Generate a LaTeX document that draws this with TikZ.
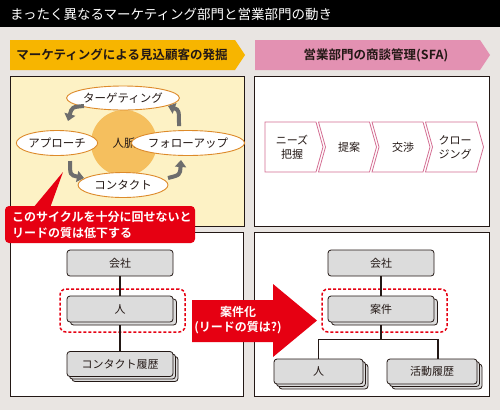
\documentclass[tikz,border=0pt]{standalone}
\usepackage{fontspec}
\setmainfont{Noto Sans CJK JP}[BoldFont={Noto Sans CJK JP Bold}]
\usetikzlibrary{arrows.meta,calc,shapes.geometric}
\definecolor{bgc}{HTML}{E9E5E2}
\definecolor{redc}{HTML}{E60012}
\definecolor{hdy}{HTML}{F7B500}
\definecolor{hdp}{HTML}{E391B2}
\definecolor{lyel}{HTML}{FDF2C5}
\definecolor{orng}{HTML}{F5BF5E}
\definecolor{ellc}{HTML}{DD8A2A}
\definecolor{chevc}{HTML}{D46E93}
\definecolor{arrg}{HTML}{6D6D6D}
\definecolor{boxg}{HTML}{DCDCDC}
\definecolor{lined}{HTML}{231815}
\newcommand\myfs[1]{\fontsize{#1}{#1}\selectfont}
\tikzset{
  panel/.style={draw=lined, line width=0.8pt},
  ell/.style={ellipse, draw=ellc, line width=0.9pt, fill=white, inner sep=0pt, font=\myfs{11.5}, text=lined},
  cyc/.style={draw=arrg, line width=4pt, -{Triangle[length=7pt,width=11pt]}},
  chev/.style={draw=chevc, line width=0.8pt, fill=white},
  chevtxt/.style={font=\fontsize{11}{14}\selectfont, align=center, text=lined, inner sep=0pt},
  gbox/.style={draw=lined, fill=boxg, rounded corners=3pt, line width=0.8pt, inner sep=0pt, font=\myfs{11}, text=lined},
  wA/.style={minimum width=106pt, minimum height=26pt},
  wB/.style={minimum width=89pt, minimum height=25pt},
  dashbox/.style={draw=redc, line width=1.5pt, dash pattern=on 3pt off 2pt, rounded corners=6pt, inner sep=0pt},
  tree/.style={draw=lined, line width=1.8pt},
}
\begin{document}
\begin{tikzpicture}[x=1pt,y=-1pt]
\useasboundingbox (0,0) rectangle (500,410);
\fill[bgc] (0,0) rectangle (500,410);
\fill[black] (0,0) rectangle (500,27);
\node[anchor=west, text=white, font=\myfs{13.5}, inner sep=0pt] (title) at (10,14) {まったく異なるマーケティング部門と営業部門の動き};

% headers
\fill[hdy] (10,40) -- (235,40) -- (245,55) -- (235,70) -- (10,70) -- cycle;
\node[font=\bfseries\myfs{12.5}, text=lined, inner sep=0pt] (hl) at (122,55) {マーケティングによる見込顧客の発掘};
\fill[hdp] (255,40) -- (480,40) -- (490,55) -- (480,70) -- (255,70) -- cycle;
\node[font=\bfseries\myfs{12.5}, text=lined, inner sep=0pt] (hr) at (376,55) {営業部門の商談管理(SFA)};

% panels
\draw[panel, fill=lyel] (10,76) rectangle (244,226);
\draw[panel, fill=white] (254,76) rectangle (489,226);
\draw[panel, fill=white] (10,232) rectangle (243,396);
\draw[panel, fill=white] (254,232) rectangle (489,396);

% cycle
\node[circle, fill=orng, minimum size=66pt, inner sep=0pt, font=\myfs{11.5}, text=lined] (jm) at (124,143) {人脈};
\node[ell, minimum width=90pt, minimum height=24pt] (tg) at (123,98) {ターゲティング};
\node[ell, minimum width=80pt, minimum height=25pt] (ap) at (57,143) {アプローチ};
\node[ell, minimum width=91pt, minimum height=25pt] (fu) at (188,143) {フォローアップ};
\node[ell, minimum width=90pt, minimum height=25pt] (ct) at (123,185) {コンタクト};
\draw[cyc] ($(tg.center)+(-39,8)$) .. controls ($(ap.center)+(15,-36)$) .. ($(ap.center)+(11,-22)$);
\draw[cyc] ($(ap.center)+(13,18)$) .. controls ($(ap.center)+(13,32)$) .. ($(ct.center)+(-39,-7)$);
\draw[cyc] ($(ct.center)+(45,-7)$) .. controls ($(fu.center)+(-8,32)$) .. ($(fu.center)+(-7,17)$);
\draw[cyc] ($(fu.center)+(-9,-17)$) .. controls ($(fu.center)+(-9,-33)$) .. ($(tg.center)+(45,8)$);

% callout
\coordinate (tail) at (63,172);
\fill[redc] (33,208) -- (tail) -- (50,208) -- cycle;
\fill[redc, rounded corners=4pt] (5,206) rectangle (195,243);
\node[anchor=west, text=white, font=\bfseries\fontsize{12}{16}\selectfont, align=left, inner sep=0pt] (callout) at (12,225) {このサイクルを十分に回せないと\\リードの質は低下する};

% chevrons
\draw[chev] (265,122) -- (316,122) -- (323,147) -- (316,172) -- (265,172) -- cycle;
\draw[chev] (318.5,122) -- (369.5,122) -- (376.5,147) -- (369.5,172) -- (318.5,172) -- (325.5,147) -- cycle;
\draw[chev] (372,122) -- (423,122) -- (430,147) -- (423,172) -- (372,172) -- (379,147) -- cycle;
\draw[chev] (425.5,122) -- (476.5,122) -- (483.5,147) -- (476.5,172) -- (425.5,172) -- (432.5,147) -- cycle;
\node[chevtxt] (c1) at (292,147) {ニーズ\\把握};
\node[chevtxt] (c2) at (349,147) {提案};
\node[chevtxt] (c3) at (403,147) {交渉};
\node[chevtxt] (c4) at (455,147) {クロー\\ジング};

% left tree
\node[dashbox, minimum width=125pt, minimum height=43pt] (dl) at (122.5,310.5) {};
\node[gbox, wA] (k1) at (120,263) {会社};
\node[gbox, wA] (h1s) at (123.5,312) {};
\node[gbox, wA] (h1) at (120,309) {人};
\node[gbox, wA, minimum height=25pt] (r1s2) at (125,369) {};
\node[gbox, wA, minimum height=25pt] (r1s1) at (122.5,366.5) {};
\node[gbox, wA, minimum height=25pt] (r1) at (120,364) {コンタクト履歴};
\draw[tree] (k1) -- (h1);
\draw[tree] (h1s.south -| h1.south) -- (r1);

% big red arrow
\fill[redc] (192,300) -- (273,300) -- (273,284) -- (317,320.5) -- (273,357) -- (273,342) -- (192,342) -- cycle;
\node[text=white, font=\bfseries\fontsize{12}{15}\selectfont, align=center, inner sep=0pt] (ak) at (238,320.5) {案件化\\(リードの質は?)};

% right tree
\node[dashbox, minimum width=125pt, minimum height=43pt] (dr) at (384.5,310.5) {};
\node[gbox, wA] (k2) at (381,263) {会社};
\node[gbox, wA] (ans) at (384.5,312) {};
\node[gbox, wA] (an) at (381,309) {案件};
\node[gbox, wB] (h2s2) at (323.5,376.5) {};
\node[gbox, wB] (h2s1) at (321,374) {};
\node[gbox, wB] (h2) at (318.5,371.5) {人};
\node[gbox, wB, minimum width=90pt] (krs2) at (437,376.5) {};
\node[gbox, wB, minimum width=90pt] (krs1) at (434.5,374) {};
\node[gbox, wB, minimum width=90pt] (kr) at (432,371.5) {活動履歴};
\draw[tree] (k2) -- (an);
\draw[tree] (ans.south -| an.south) -- ++(0,14) coordinate (j);
\draw[tree] (h2.north) |- (j) -| ([xshift=6pt]kr.north);
\end{tikzpicture}
\end{document}
